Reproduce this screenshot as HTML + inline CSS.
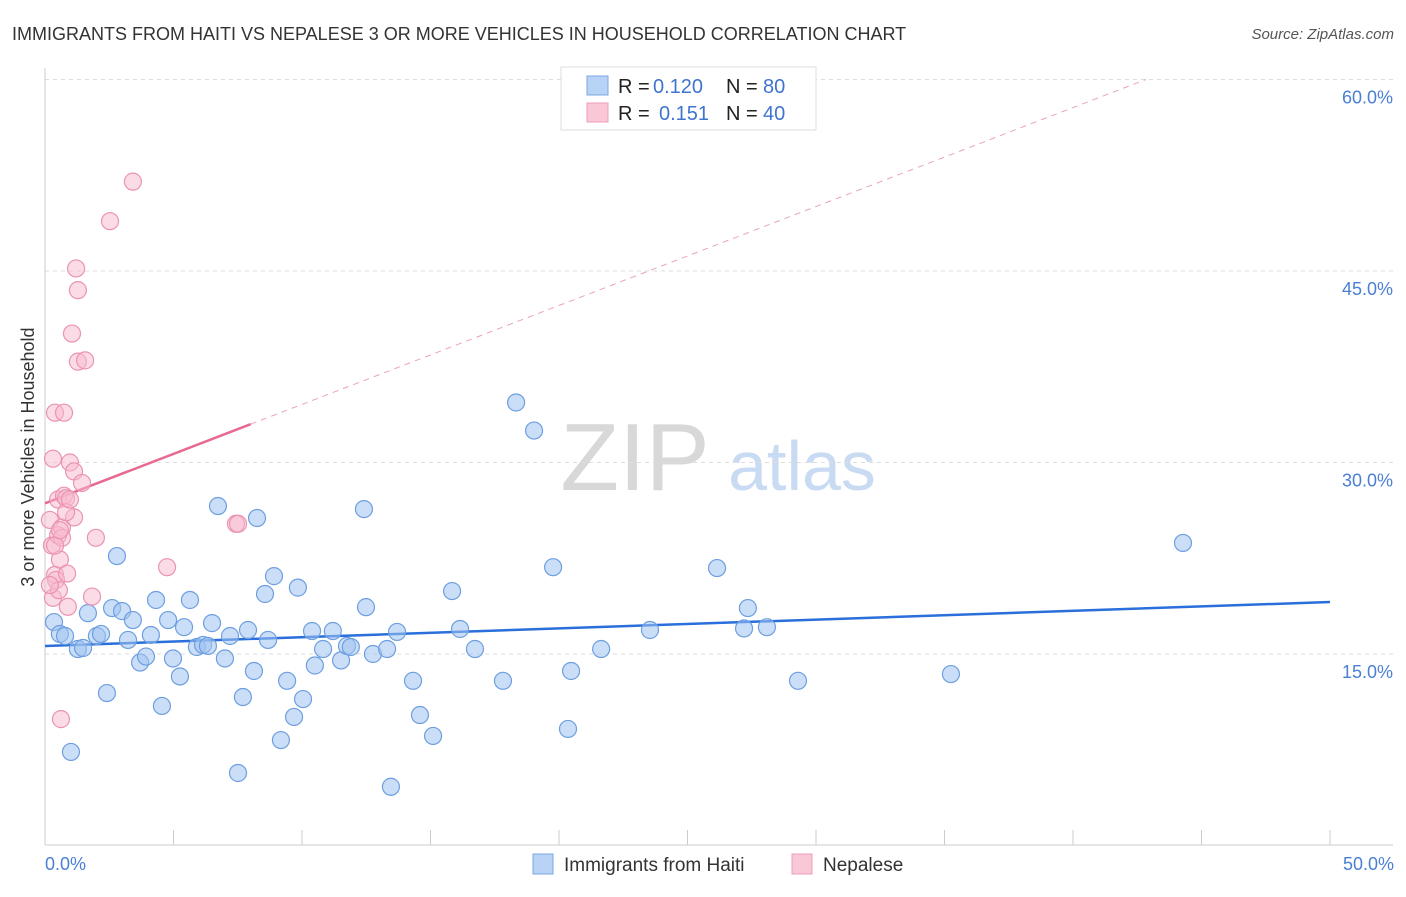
<!DOCTYPE html>
<html><head><meta charset="utf-8"><style>
body{margin:0;background:#fff;font-family:"Liberation Sans",sans-serif;}
svg text{font-family:"Liberation Sans",sans-serif;}
</style></head><body>
<svg id="chart" width="1406" height="892">
<text x="12" y="40" font-size="18" fill="#333">IMMIGRANTS FROM HAITI VS NEPALESE 3 OR MORE VEHICLES IN HOUSEHOLD CORRELATION CHART</text>
<text x="1394" y="39" font-size="15" fill="#555" font-style="italic" text-anchor="end">Source: ZipAtlas.com</text>
<text x="635" y="490" font-size="96" fill="#d8d8d8" font-family="Liberation Serif" text-anchor="middle">ZIP</text>
<text x="802" y="490" font-size="70" fill="#c9dbf3" text-anchor="middle">atlas</text>
<text transform="translate(34,457) rotate(-90)" font-size="18" fill="#333" text-anchor="middle">3 or more Vehicles in Household</text>
<g id="grid"></g><g id="axes"></g><g id="lines"></g><g id="pts"></g>
<text x="45" y="870" font-size="18" fill="#4a7fd4">0.0%</text>
<text x="1394" y="870" font-size="18" fill="#4a7fd4" text-anchor="end">50.0%</text>
<g>
<rect x="561" y="67" width="255" height="63" fill="#fff" stroke="#ddd"/>
<rect x="587" y="76" width="21" height="19" fill="#b8d3f5" stroke="#7aa8e4"/>
<rect x="587" y="103" width="21" height="19" fill="#f9c7d6" stroke="#ee9cb8"/>
<text x="618" y="93" font-size="20" fill="#222">R =</text>
<text x="653" y="93" font-size="20" fill="#3f74cf">0.120</text>
<text x="726" y="93" font-size="20" fill="#222">N =</text>
<text x="763" y="93" font-size="20" fill="#3f74cf">80</text>
<text x="618" y="120" font-size="20" fill="#222">R =</text>
<text x="659" y="120" font-size="20" fill="#3f74cf">0.151</text>
<text x="726" y="120" font-size="20" fill="#222">N =</text>
<text x="763" y="120" font-size="20" fill="#3f74cf">40</text>
</g>
<g>
<rect x="533" y="854" width="20" height="20" fill="#b8d3f5" stroke="#7aa8e4"/>
<text x="564" y="871" font-size="19" fill="#333">Immigrants from Haiti</text>
<rect x="792" y="854" width="20" height="20" fill="#f9c7d6" stroke="#ee9cb8"/>
<text x="823" y="871" font-size="19" fill="#333">Nepalese</text>
</g>
</svg>
<script>
const yTicks=[15,30,45,60];
const yTickLabels=["15.0%","30.0%","45.0%","60.0%"];
const blueX=[0.35,0.58,0.78,1.01,1.28,1.48,1.67,2.02,2.18,2.41,2.61,2.8,3.0,3.23,3.42,3.7,3.93,4.12,4.32,4.55,4.79,4.98,5.25,5.41,5.64,5.91,6.15,6.34,6.5,6.73,7.0,7.2,7.51,7.7,7.9,8.13,8.25,8.56,8.68,8.91,9.18,9.42,9.69,9.84,10.04,10.39,10.5,10.82,11.2,11.52,11.75,11.9,12.41,12.49,12.76,13.31,13.46,13.7,14.32,14.59,15.1,15.84,16.15,16.73,17.82,18.33,19.03,19.77,20.35,20.47,21.64,23.54,26.15,27.2,27.35,28.09,29.3,35.25,44.28];
const blueY=[17.5,16.57,16.41,7.33,15.39,15.47,18.2,16.41,16.57,11.94,18.6,22.67,18.36,16.1,17.66,14.33,14.8,16.49,19.23,10.93,17.66,14.65,13.24,17.1,19.23,15.55,15.71,15.63,17.42,26.59,14.65,16.41,5.68,11.63,16.88,13.67,25.65,19.7,16.1,21.1,8.26,12.9,10.07,20.2,11.47,16.8,14.1,15.39,16.8,14.5,15.63,15.55,26.35,18.67,15.0,15.39,4.6,16.73,12.9,10.22,8.58,19.93,16.96,15.39,12.9,34.7,32.5,21.8,9.13,13.67,15.39,16.88,21.73,17.0,18.6,17.1,12.9,13.43,23.7];
const pinkX=[0.31,0.39,0.31,0.19,0.27,0.39,0.43,0.51,0.51,0.58,0.62,0.66,0.74,0.74,0.82,0.86,0.89,0.97,1.05,1.13,1.13,1.21,1.28,1.28,1.44,1.56,1.83,1.98,2.53,3.42,4.75,7.43,7.51,0.66,0.54,0.19,0.82,0.39,0.58,0.97];
const pinkY=[19.4,33.9,30.3,25.5,23.5,21.2,20.8,27.1,24.3,22.4,9.9,24.9,33.9,27.4,27.2,21.3,18.7,30.0,40.1,29.3,25.7,45.2,43.5,37.9,28.4,38.0,19.5,24.1,48.9,52.0,21.8,25.2,25.2,24.1,20.0,20.4,26.1,23.5,24.7,27.1];
const blueTrend=[15.63,19.07];
const pinkTrend=[26.8,0.775];
const NS="http://www.w3.org/2000/svg";
const sx=v=>45+v/50*1285;
const sy=v=>845.5-v/15*191.5;
function mk(tag,attrs,parent){const e=document.createElementNS(NS,tag);for(const k in attrs)e.setAttribute(k,attrs[k]);document.getElementById(parent).appendChild(e);return e;}
yTicks.forEach((t,i)=>{
 const l=mk('line',{x1:45,x2:1393,y1:sy(t),y2:sy(t),stroke:'#ddd','stroke-dasharray':'4,4'},'grid');
 
 
 const tx=mk('text',{x:1393,y:sy(t)+24,'font-size':18,fill:'#4a7fd4','text-anchor':'end'},'grid');
 tx.textContent=yTickLabels[i];
 
 
});
let a=mk('line',{x1:45,x2:45,y1:68,y2:845,stroke:'#ccc'},'axes');


a=mk('line',{x1:45,x2:1393,y1:845,y2:845,stroke:'#ccc'},'axes');


for(let i=0;i<=10;i++){
 const t=mk('line',{x1:sx(i*5),x2:sx(i*5),y1:830,y2:845,stroke:'#ccc'},'axes');
 
 
}
let ln=mk('line',{x1:sx(0),y1:sy(blueTrend[0]),x2:sx(50),y2:sy(blueTrend[1]),stroke:'#2a6fdb','stroke-width':2.5},'lines');


const pEnd=(60-pinkTrend[0])/pinkTrend[1];
ln=mk('line',{x1:sx(8),y1:sy(pinkTrend[0]+8*pinkTrend[1]),x2:sx(pEnd),y2:sy(60),stroke:'#eaa3ba','stroke-width':1,'stroke-dasharray':'6,5'},'lines');


ln=mk('line',{x1:sx(0),y1:sy(pinkTrend[0]),x2:sx(8),y2:sy(pinkTrend[0]+8*pinkTrend[1]),stroke:'#e8698f','stroke-width':2.5},'lines');


blueX.forEach((x,i)=>{
 const c=mk('circle',{cx:sx(x),cy:sy(blueY[i]),r:8.5,fill:'rgba(160,195,240,0.55)',stroke:'#6d9fe0','stroke-width':1.2},'pts');
 
 
});
pinkX.forEach((x,i)=>{
 const c=mk('circle',{cx:sx(x),cy:sy(pinkY[i]),r:8.5,fill:'rgba(248,185,206,0.5)',stroke:'#eb93b2','stroke-width':1.2},'pts');
 
 
});
</script>
</body></html>
